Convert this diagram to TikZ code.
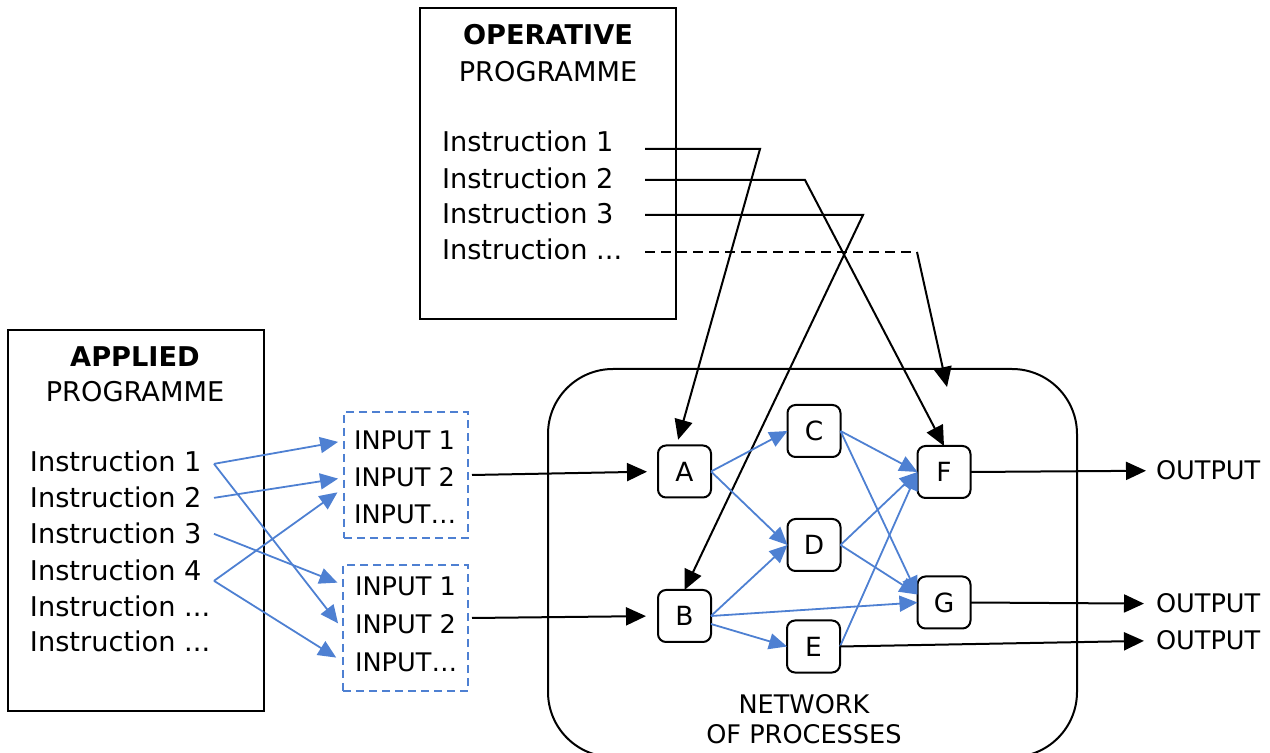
\documentclass[tikz,border=0pt]{standalone}
\usepackage{fontspec}
\setmainfont{DejaVu Sans}
\usetikzlibrary{arrows.meta,calc}
\definecolor{netblue}{RGB}{78,128,210}
\begin{document}
\begin{tikzpicture}[x=0.5pt,y=-0.5pt,
  font=\fontsize{13.2pt}{16pt}\selectfont,
  frame/.style={draw,line width=1pt,inner sep=0pt,outer sep=0pt},
  txt/.style={inner sep=0pt,outer sep=0pt,anchor=base west,font=\fontsize{13.6pt}{16pt}\selectfont},
  lbl/.style={inner sep=0pt,outer sep=0pt,anchor=base west,font=\fontsize{12.8pt}{16pt}\selectfont},
  ttl/.style={inner sep=0pt,outer sep=0pt,anchor=base,font=\fontsize{13.6pt}{16pt}\selectfont},
  netl/.style={inner sep=0pt,outer sep=0pt,anchor=base,font=\fontsize{12.8pt}{16pt}\selectfont},
  proc/.style={draw,line width=1pt,rounded corners=4pt,minimum width=26.5pt,minimum height=26pt,inner sep=0pt,outer sep=0pt},
  inbox/.style={draw=netblue,dash pattern=on 4pt off 2.5pt,line width=1pt,inner sep=0pt,outer sep=0pt},
  ctrl/.style={line width=1pt,-{Triangle[length=10pt,width=9pt]}},
  flow/.style={draw=netblue,line width=0.9pt,-{Triangle[length=9pt,width=8pt]}},
]
\useasboundingbox (0,0) rectangle (1270,753);

% ---------- operative programme ----------
\node[frame,minimum width=128pt,minimum height=155.5pt] (opbox) at (548,163.5) {};
\node[ttl] (optitle) at (548,45) {\bfseries OPERATIVE};
\node[ttl] (opsub) at (548,82) {PROGRAMME};
\node[txt] (op1) at (442,152) {Instruction 1};
\node[txt] (op2) at (442,189) {Instruction 2};
\node[txt] (op3) at (442,224) {Instruction 3};
\node[txt] (op4) at (442,260) {Instruction ...};

% ---------- applied programme ----------
\node[frame,minimum width=128pt,minimum height=190.5pt] (apbox) at (136,520.5) {};
\node[ttl] (aptitle) at (135,367) {\bfseries APPLIED};
\node[ttl] (apsub) at (135,402) {PROGRAMME};
\node[txt] (ap1) at (30,472) {Instruction 1};
\node[txt] (ap2) at (30,508) {Instruction 2};
\node[txt] (ap3) at (30,544) {Instruction 3};
\node[txt] (ap4) at (30,581) {Instruction 4};
\node[txt] (ap5) at (30,617) {Instruction ...};
\node[txt] (ap6) at (30,652) {Instruction ...};

% ---------- input groups ----------
\node[inbox,minimum width=62pt,minimum height=63pt] (in1) at (406,475) {};
\node[lbl] (i11) at (354,450) {INPUT 1};
\node[lbl] (i12) at (354,487) {INPUT 2};
\node[lbl] (i13) at (354,524) {INPUT…};
\node[inbox,minimum width=62.5pt,minimum height=63pt] (in2) at (405.5,628) {};
\node[lbl] (i21) at (355,596) {INPUT 1};
\node[lbl] (i22) at (355,633) {INPUT 2};
\node[lbl] (i23) at (355,671) {INPUT…};

% ---------- network of processes ----------
\node[frame,rounded corners=32.5pt,minimum width=264.5pt,minimum height=194pt] (net) at (812.5,563) {};
\node[netl] (netl1) at (804,713) {NETWORK};
\node[netl] (netl2) at (804,743) {OF PROCESSES};

\node[proc] (A) at (684.5,471.5) {A};
\node[proc] (B) at (684.5,616) {B};
\node[proc] (C) at (814,431) {C};
\node[proc] (D) at (814,545) {D};
\node[proc] (E) at (813.5,646.5) {E};
\node[proc] (F) at (944,472) {F};
\node[proc] (G) at (944,602.5) {G};

% ---------- outputs ----------
\node[lbl] (oF) at (1156,480) {OUTPUT};
\node[lbl] (oG) at (1156,613) {OUTPUT};
\node[lbl] (oE) at (1156,650) {OUTPUT};

% ---------- helper points for the control lines ----------
\coordinate (ox) at (645,0);
\coordinate (ax) at (214,0);
\coordinate (s1) at (645,149);
\coordinate (s2) at (645,180);
\coordinate (s3) at (645,215);
\coordinate (s4) at (645,252);
\coordinate (k1) at (760,149);
\coordinate (k2) at (805,180);
\coordinate (k3) at (863,215);
\coordinate (k4) at (917,252);
\coordinate (e4) at (947,387);

% operative instructions steering the processes
\draw[ctrl,shorten >=3pt] (s1) -- (k1) -- ([xshift=-4pt]A.north);
\draw[ctrl] (s2) -- (k2) -- (F.north);
\draw[ctrl] (s3) -- (k3) -- (B.north);
\draw[line width=1pt,dash pattern=on 5pt off 3pt] (s4) -- (k4);
\draw[ctrl] (k4) -- (e4);

% applied instructions feeding the inputs
\draw[flow,shorten >=3pt] ([yshift=-1pt]ap1 -| ax) -- (in1.west |- i11);
\draw[flow,shorten >=4pt] ([yshift=-1pt]ap1 -| ax) -- ([yshift=-3pt]in2.west |- i22);
\draw[flow,shorten >=3pt] (ap2 -| ax) -- (in1.west |- i12);
\draw[flow,shorten >=3pt] (ap3 -| ax) -- ([yshift=1pt]in2.west |- i21);
\draw[flow,shorten >=4pt] ([yshift=-5pt]ap4 -| ax) -- ([yshift=-5pt]in1.west |- i12);
\draw[flow,shorten >=4pt] ([yshift=-5pt]ap4 -| ax) -- (in2.west |- i23);

% inputs into the network
\draw[ctrl,shorten >=5.5pt] ([xshift=2pt]in1.east) -- (A.west);
\draw[ctrl,shorten >=6pt] ([xshift=2pt,yshift=5pt]in2.east) -- (B.west);

% flows between processes
\draw[flow] (A.east) -- (C.west);
\draw[flow] (A.east) -- (D.west);
\draw[flow] (B.east) -- (D.west);
\draw[flow] (B.east) -- (G.west);
\draw[flow] ([yshift=-4pt]B.east) -- (E.west);
\draw[flow] (C.east) -- (F.west);
\draw[flow] (C.east) -- ([yshift=4pt]G.west);
\draw[flow] (D.east) -- (F.west);
\draw[flow] (D.east) -- ([yshift=4pt]G.west);
\draw[flow] (E.east) -- (F.west);

% results
\draw[ctrl,shorten >=5pt] (F.east) -- (oF.west);
\draw[ctrl,shorten >=6pt] (G.east) -- (oG.west);
\draw[ctrl,shorten >=6pt] (E.east) -- (oE.west);
\end{tikzpicture}
\end{document}
